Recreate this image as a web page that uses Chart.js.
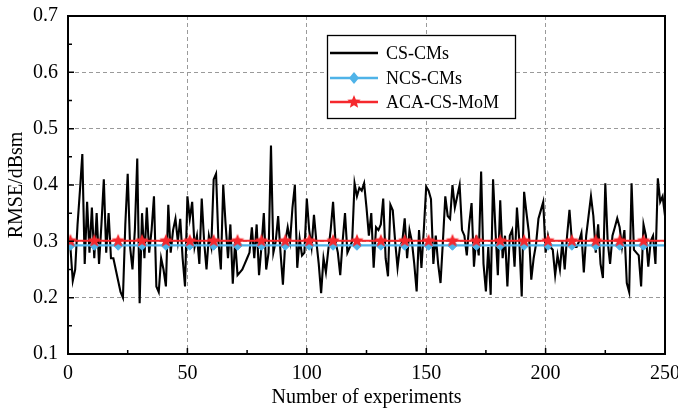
<!DOCTYPE html>
<html>
<head>
<meta charset="utf-8">
<script src="https://cdn.jsdelivr.net/npm/chart.js@4.4.1/dist/chart.umd.min.js"></script>
<style>
  html, body { margin: 0; padding: 0; background: #fff; }
  #wrap { width: 678px; height: 413px; }
</style>
</head>
<body>
<div id="wrap"><canvas id="rmseChart" width="678" height="413"></canvas></div>
<script>
// RMSE of each run, CS-CMs (runs 1..250)
const csCms = [
  0.29, 0.23, 0.25, 0.33, 0.39, 0.455, 0.26, 0.37, 0.28, 0.36,
  0.27, 0.35, 0.26, 0.33, 0.41, 0.28, 0.35, 0.27, 0.27, 0.25,
  0.23, 0.21, 0.20, 0.33, 0.42, 0.29, 0.25, 0.32, 0.447, 0.19,
  0.35, 0.27, 0.36, 0.28, 0.32, 0.38, 0.22, 0.21, 0.27, 0.25,
  0.22, 0.365, 0.28, 0.32, 0.34, 0.30, 0.34, 0.27, 0.22, 0.38,
  0.34, 0.37, 0.29, 0.31, 0.26, 0.376, 0.30, 0.25, 0.31, 0.29,
  0.41, 0.42, 0.30, 0.25, 0.40, 0.33, 0.27, 0.33, 0.225, 0.30,
  0.24, 0.245, 0.25, 0.26, 0.27, 0.28, 0.325, 0.27, 0.33, 0.24,
  0.29, 0.35, 0.25, 0.28, 0.47, 0.28, 0.30, 0.345, 0.28, 0.223,
  0.30, 0.325, 0.30, 0.36, 0.40, 0.253, 0.305, 0.275, 0.28, 0.376,
  0.32, 0.29, 0.347, 0.30, 0.26, 0.208, 0.27, 0.245, 0.285, 0.32,
  0.37, 0.30, 0.28, 0.24, 0.30, 0.35, 0.28, 0.29, 0.30, 0.403,
  0.38, 0.395, 0.39, 0.403, 0.36, 0.31, 0.35, 0.253, 0.325, 0.32,
  0.33, 0.376, 0.27, 0.238, 0.365, 0.355, 0.30, 0.253, 0.29, 0.30,
  0.341, 0.27, 0.32, 0.30, 0.26, 0.211, 0.32, 0.253, 0.32, 0.397,
  0.39, 0.375, 0.26, 0.31, 0.26, 0.226, 0.30, 0.38, 0.345, 0.34,
  0.40, 0.36, 0.38, 0.40, 0.32, 0.31, 0.275, 0.33, 0.368, 0.255,
  0.31, 0.275, 0.424, 0.26, 0.211, 0.29, 0.205, 0.41, 0.32, 0.24,
  0.373, 0.27, 0.31, 0.22, 0.31, 0.32, 0.255, 0.36, 0.30, 0.202,
  0.388, 0.35, 0.315, 0.232, 0.27, 0.295, 0.34, 0.355, 0.37, 0.28,
  0.31, 0.29, 0.285, 0.24, 0.275, 0.25, 0.30, 0.25, 0.31, 0.356,
  0.30, 0.29, 0.29, 0.30, 0.315, 0.245, 0.31, 0.345, 0.38, 0.345,
  0.28, 0.33, 0.26, 0.235, 0.403, 0.30, 0.26, 0.31, 0.325, 0.341,
  0.325, 0.29, 0.32, 0.226, 0.21, 0.403, 0.285, 0.28, 0.275, 0.22,
  0.33, 0.31, 0.255, 0.30, 0.31, 0.26, 0.412, 0.37, 0.38, 0.345
];

// the two flat curves, sampled at the marker runs plus the last run
const markerRuns = [1, 11, 21, 31, 41, 51, 61, 71, 81, 91, 101, 111, 121,
  131, 141, 151, 161, 171, 181, 191, 201, 211, 221, 231, 241, 250];
const ncsCms = [0.293, 0.293, 0.293, 0.293, 0.293, 0.293, 0.293, 0.293, 0.293,
  0.293, 0.293, 0.293, 0.293, 0.293, 0.293, 0.293, 0.293, 0.293, 0.293,
  0.293, 0.293, 0.293, 0.293, 0.293, 0.293, 0.293];
const acaCsMom = [0.301, 0.301, 0.301, 0.301, 0.301, 0.301, 0.301, 0.301, 0.301,
  0.301, 0.301, 0.301, 0.301, 0.301, 0.301, 0.301, 0.301, 0.301, 0.301,
  0.301, 0.301, 0.301, 0.301, 0.301, 0.301, 0.301];

const seriesNames = ["CS-CMs", "NCS-CMs", "ACA-CS-MoM"];
const xTitle = "Number of experiments";
const yTitle = "RMSE/dBsm";

const SERIF = "'Liberation Serif', 'Times New Roman', serif";
const RED = "#f5282d";
const BLUE = "#4fb3e8";

// filled five-point star, used as a point style
function starImage(r, color) {
  const c = document.createElement("canvas");
  c.width = c.height = 2 * r + 2;
  const g = c.getContext("2d");
  g.fillStyle = color;
  g.beginPath();
  for (let i = 0; i < 10; i++) {
    const rad = i % 2 ? r * 0.45 : r;
    const a = -Math.PI / 2 + (i * Math.PI) / 5;
    g.lineTo(r + 1 + rad * Math.cos(a), r + 1 + rad * Math.sin(a));
  }
  g.closePath();
  g.fill();
  return c;
}
const star = starImage(7, RED);

// no marker on the closing point of the flat curves
const markerOnly = (r) => (c) => (c.dataIndex === markerRuns.length - 1 ? 0 : r);

const pts = (xs, ys) => xs.map((x, i) => ({ x: x, y: ys[i] }));

// axis frame with inward ticks, drawn over the data
const framePlugin = {
  id: "frame",
  afterDraw(chart) {
    const ctx = chart.ctx;
    const { left, right, top, bottom } = chart.chartArea;
    const xs = chart.scales.x;
    const ys = chart.scales.y;
    ctx.save();
    ctx.strokeStyle = "#000";
    ctx.lineWidth = 2;
    ctx.strokeRect(left, top, right - left, bottom - top);
    ctx.lineWidth = 1.5;
    ctx.beginPath();
    const xt = xs.ticks.map((t) => t.value);
    xt.forEach((v, i) => {
      const px = xs.getPixelForValue(v);
      ctx.moveTo(px, bottom);
      ctx.lineTo(px, bottom - 6);
      if (i < xt.length - 1) {
        const mx = xs.getPixelForValue((v + xt[i + 1]) / 2);
        ctx.moveTo(mx, bottom);
        ctx.lineTo(mx, bottom - 4);
      }
    });
    const yt = ys.ticks.map((t) => t.value);
    yt.forEach((v, i) => {
      const py = ys.getPixelForValue(v);
      ctx.moveTo(left, py);
      ctx.lineTo(left + 6, py);
      if (i < yt.length - 1) {
        const my = ys.getPixelForValue((v + yt[i + 1]) / 2);
        ctx.moveTo(left, my);
        ctx.lineTo(left + 4, my);
      }
    });
    ctx.stroke();
    ctx.restore();
  },
};

// boxed legend in the upper middle of the plot
const legendBoxPlugin = {
  id: "legendBox",
  afterDraw(chart) {
    const ctx = chart.ctx;
    const bx = 327, by = 35, bw = 188, bh = 83;
    ctx.save();
    ctx.fillStyle = "#fff";
    ctx.fillRect(bx, by, bw, bh);
    ctx.strokeStyle = "#000";
    ctx.lineWidth = 1.3;
    ctx.strokeRect(bx + 0.5, by + 0.5, bw, bh);
    const rows = [53, 78, 102];
    chart.data.datasets.forEach((ds, i) => {
      const y = rows[i];
      ctx.strokeStyle = ds.borderColor;
      ctx.lineWidth = 2.4;
      ctx.beginPath();
      ctx.moveTo(330, y);
      ctx.lineTo(378, y);
      ctx.stroke();
      if (ds.pointStyle === "rectRot") {
        ctx.fillStyle = ds.borderColor;
        ctx.beginPath();
        ctx.moveTo(354, y - 6);
        ctx.lineTo(359, y);
        ctx.lineTo(354, y + 6);
        ctx.lineTo(349, y);
        ctx.closePath();
        ctx.fill();
      } else if (ds.pointStyle === star) {
        ctx.drawImage(star, 354 - star.width / 2, y - star.height / 2);
      }
      ctx.fillStyle = "#000";
      ctx.font = "18px " + SERIF;
      ctx.textBaseline = "middle";
      ctx.textAlign = "left";
      ctx.fillText(ds.label, 386, y + 1);
    });
    ctx.restore();
  },
};

const gridColor = (lo, hi) => (c) => {
  const v = c.tick ? c.tick.value : 0;
  return Math.abs(v - lo) < 1e-6 || Math.abs(v - hi) < 1e-6 ? "rgba(0,0,0,0)" : "#9a9a9a";
};

const ctx = document.getElementById("rmseChart").getContext("2d");
new Chart(ctx, {
  type: "line",
  data: {
    datasets: [
      {
        label: seriesNames[0],
        data: csCms.map((v, i) => ({ x: i + 1, y: v })),
        borderColor: "#000",
        borderWidth: 2.1,
        pointRadius: 0,
        tension: 0,
        order: 3,
      },
      {
        label: seriesNames[1],
        data: pts(markerRuns, ncsCms),
        borderColor: BLUE,
        backgroundColor: BLUE,
        borderWidth: 2.2,
        pointStyle: "rectRot",
        pointRadius: markerOnly(5),
        pointBorderWidth: 1,
        order: 2,
      },
      {
        label: seriesNames[2],
        data: pts(markerRuns, acaCsMom),
        borderColor: RED,
        backgroundColor: RED,
        borderWidth: 2.2,
        pointStyle: star,
        pointRadius: markerOnly(7),
        order: 1,
      },
    ],
  },
  options: {
    responsive: false,
    animation: false,
    layout: { padding: { top: 16, right: 13, left: 0, bottom: 0 } },
    plugins: { legend: { display: false }, tooltip: { enabled: false } },
    scales: {
      x: {
        type: "linear",
        min: 0,
        max: 250,
        ticks: { stepSize: 50, color: "#000", padding: 8, font: { family: SERIF, size: 20 } },
        grid: { color: gridColor(0, 250), lineWidth: 1, drawTicks: false },
        border: { display: false, dash: [4, 3] },
        title: { display: true, text: xTitle, color: "#000", font: { family: SERIF, size: 20 }, padding: { top: 0, bottom: 3 } },
        afterFit: (s) => {
          s.height = 59;
          // let the last tick label run past the plot edge
          s.paddingLeft = 0;
          s.paddingRight = 0;
        },
      },
      y: {
        min: 0.1,
        max: 0.7,
        ticks: {
          stepSize: 0.1,
          color: "#000",
          padding: 10,
          font: { family: SERIF, size: 20 },
          callback: (v) => v.toFixed(1),
        },
        grid: { color: gridColor(0.1, 0.7), lineWidth: 1, drawTicks: false },
        border: { display: false, dash: [4, 3] },
        title: { display: true, text: yTitle, color: "#000", font: { family: SERIF, size: 20 }, padding: { top: 5, bottom: 0 } },
        afterFit: (s) => {
          s.width = 68;
          s.paddingTop = 0;
          s.paddingBottom = 0;
        },
      },
    },
  },
  plugins: [framePlugin, legendBoxPlugin],
});
</script>
</body>
</html>
